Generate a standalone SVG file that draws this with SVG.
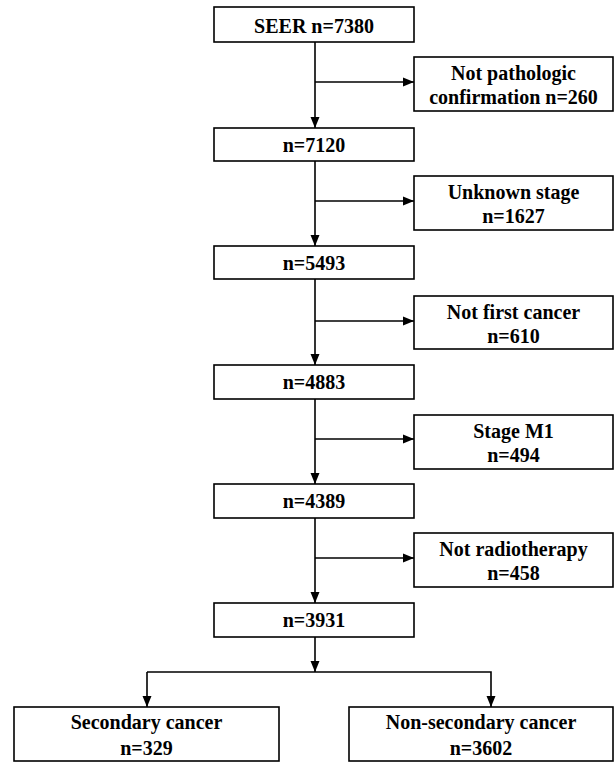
<svg xmlns="http://www.w3.org/2000/svg" width="614" height="762" viewBox="0 0 614 762">
<defs>
<style>
rect.box{fill:#fff;stroke:#000;stroke-width:1.6}
text{font-family:"Liberation Serif","Times New Roman",serif;font-weight:bold;font-size:20px;fill:#000;text-anchor:middle}
.conn line,.conn polyline{stroke:#000;stroke-width:1.6;fill:none}
</style>
<marker id="ah" markerUnits="userSpaceOnUse" markerWidth="12" markerHeight="10" refX="11" refY="5" orient="auto">
<path d="M0,0.5 L11,5 L0,9.5 z" fill="#000"/>
</marker>
</defs>
<rect width="614" height="762" fill="#fff"/>
<g class="conn" id="connectors">
<line x1="315" y1="42" x2="315" y2="128" marker-end="url(#ah)"/>
<line x1="315" y1="82" x2="414" y2="82" marker-end="url(#ah)"/>
<line x1="315" y1="161" x2="315" y2="246" marker-end="url(#ah)"/>
<line x1="315" y1="201" x2="414" y2="201" marker-end="url(#ah)"/>
<line x1="315" y1="279" x2="315" y2="365" marker-end="url(#ah)"/>
<line x1="315" y1="321" x2="414" y2="321" marker-end="url(#ah)"/>
<line x1="315" y1="399" x2="315" y2="484" marker-end="url(#ah)"/>
<line x1="315" y1="439" x2="414" y2="439" marker-end="url(#ah)"/>
<line x1="315" y1="518" x2="315" y2="603" marker-end="url(#ah)"/>
<line x1="315" y1="558" x2="414" y2="558" marker-end="url(#ah)"/>
<line x1="315" y1="637" x2="315" y2="672" marker-end="url(#ah)"/>
<polyline points="147,672 491,672 491,707" marker-end="url(#ah)"/>
<line x1="147" y1="672" x2="147" y2="707" marker-end="url(#ah)"/>
</g>
<g id="n-seer"><rect class="box" x="214" y="7" width="200" height="35"/><text x="314" y="33">SEER n=7380</text></g>
<g id="x-path"><rect class="box" x="414" y="57" width="199" height="54"/><text x="513.5" y="80">Not pathologic</text><text x="513.5" y="104">confirmation n=260</text></g>
<g id="n-7120"><rect class="box" x="214" y="128" width="200" height="33"/><text x="314" y="152">n=7120</text></g>
<g id="x-stage"><rect class="box" x="414" y="176" width="199" height="54"/><text x="513.5" y="199">Unknown stage</text><text x="513.5" y="223">n=1627</text></g>
<g id="n-5493"><rect class="box" x="214" y="246" width="200" height="33"/><text x="314" y="270">n=5493</text></g>
<g id="x-first"><rect class="box" x="414" y="296" width="199" height="53"/><text x="513.5" y="319">Not first cancer</text><text x="513.5" y="343">n=610</text></g>
<g id="n-4883"><rect class="box" x="214" y="365" width="200" height="34"/><text x="314" y="389">n=4883</text></g>
<g id="x-m1"><rect class="box" x="414" y="415" width="199" height="54"/><text x="513.5" y="438">Stage M1</text><text x="513.5" y="462">n=494</text></g>
<g id="n-4389"><rect class="box" x="214" y="484" width="200" height="34"/><text x="314" y="508">n=4389</text></g>
<g id="x-radio"><rect class="box" x="414" y="533" width="199" height="54"/><text x="513.5" y="556">Not radiotherapy</text><text x="513.5" y="580">n=458</text></g>
<g id="n-3931"><rect class="box" x="214" y="603" width="200" height="34"/><text x="314" y="627">n=3931</text></g>
<g id="o-second"><rect class="box" x="14" y="707" width="265" height="54"/><text x="146.5" y="729">Secondary cancer</text><text x="146.5" y="755">n=329</text></g>
<g id="o-nonsecond"><rect class="box" x="349" y="707" width="264" height="54"/><text x="481" y="729">Non-secondary cancer</text><text x="481" y="755">n=3602</text></g>
</svg>
